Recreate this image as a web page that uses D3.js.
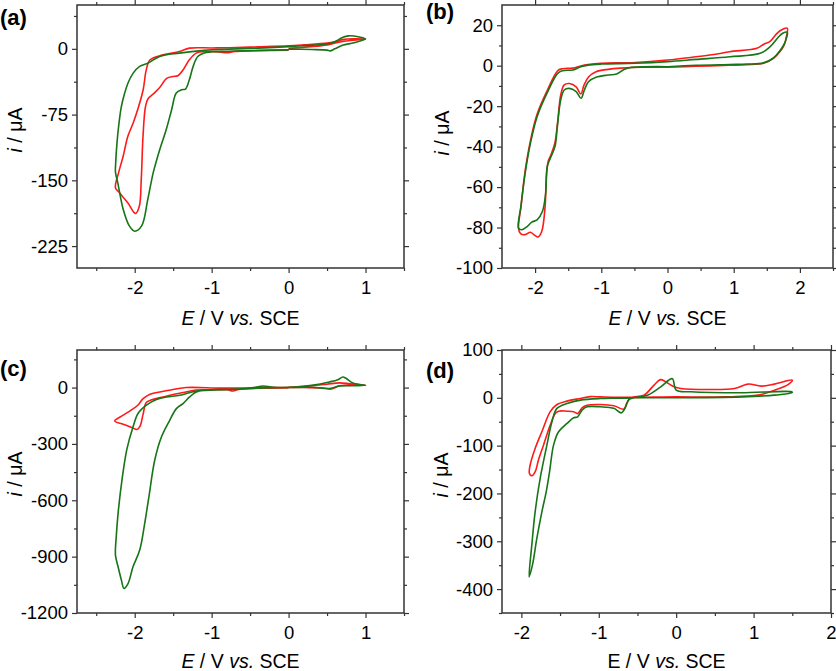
<!DOCTYPE html>
<html>
<head>
<meta charset="utf-8">
<script src="https://cdn.jsdelivr.net/npm/d3@7"></script>
<style>
  body { margin: 0; background: #fff; }
  svg { display: block; }
</style>
</head>
<body>
<svg id="chart" width="836" height="671"></svg>
<script>

// ---- data: [E (V vs SCE), i (uA)] ----

// panel (a)
var redA = [
  [0, 0.5], [0.3, 2.5], [0.5, 4.5], [0.65, 7.5], [0.8, 9.5], [1.0, 11],
  [0.85, 11.5], [0.7, 10.5], [0.6, 8], [0.5, 6.5], [0.2, 4.5], [0, 3.4], [-0.4, 2.2], [-0.77, 1.2],
  [-1.0, 1.0], [-1.29, 0.8], [-1.42, -3], [-1.63, -6.8], [-1.8, -12.5], [-1.85, -24], [-1.89, -46.7],
  [-1.96, -69], [-2.02, -84.6], [-2.09, -100], [-2.15, -122.5], [-2.21, -141.5], [-2.25, -158.6],
  [-2.2, -164], [-2.09, -175.6], [-1.99, -187.8], [-1.94, -179.5], [-1.915, -149], [-1.892, -99.8],
  [-1.86, -66], [-1.827, -57], [-1.74, -50], [-1.675, -44], [-1.58, -33.5], [-1.5, -31.5], [-1.44, -30.7],
  [-1.37, -23.9], [-1.29, -12.5], [-1.2, -4.9], [-1.07, -3], [-0.9, -3.5], [-0.8, -4.5], [-0.7, -3],
  [-0.4, -2.2], [0, -1.5]
];
var greenA = [
  [0, -0.3], [0.3, -0.8], [0.5, -1.5], [0.54, -2.3], [0.6, 0], [0.7, 4], [0.85, 7], [1.0, 11.4],
  [0.92, 13.5], [0.78, 14.8], [0.7, 13], [0.6, 8], [0.5, 5.5], [0.2, 3.5], [0, 2.5], [-0.4, 0.8],
  [-0.77, -0.3], [-1.1, -1.8], [-1.42, -4.9], [-1.675, -8.7], [-1.827, -16.3], [-1.935, -20],
  [-2.02, -27.7], [-2.087, -39], [-2.13, -50.4], [-2.173, -65.6], [-2.204, -84.6], [-2.23, -107],
  [-2.247, -130], [-2.25, -140.7],
  [-2.22, -152.9], [-2.15, -183], [-2.07, -202], [-2.0, -208], [-1.91, -202], [-1.83, -171.8],
  [-1.76, -141.5], [-1.675, -115], [-1.59, -92], [-1.52, -69.4], [-1.46, -50.4], [-1.39, -46.7],
  [-1.34, -45.9], [-1.29, -35.3], [-1.24, -20], [-1.18, -8.7], [-1.07, -4.2], [-0.77, -2.7],
  [-0.4, -1.8], [0, -1.2]
];

// panel (b)
var redB = [
  [0, -0.8], [0.43, -0.3], [0.94, 0.2], [1.2, 0.5], [1.45, 1.2], [1.6, 3.6], [1.7, 7], [1.76, 10], [1.8, 15],
  [1.81, 18.5], [1.74, 18], [1.654, 16], [1.55, 12], [1.45, 10.5], [1.35, 8.6], [0.94, 6.9], [0.7, 5.5],
  [0.43, 4.4], [0, 2.8], [-0.49, 1.6], [-1.0, 1.2], [-1.2, 0.6], [-1.3, 0], [-1.43, -1.2], [-1.59, -1.5],
  [-1.66, -2.5], [-1.82, -12.5], [-1.97, -24], [-2.07, -37], [-2.15, -52], [-2.21, -69], [-2.25, -80.5],
  [-2.22, -83], [-2.15, -83.5], [-2.07, -82.3], [-2.0, -84], [-1.955, -84.7], [-1.9, -82], [-1.85, -70],
  [-1.83, -55], [-1.8, -47], [-1.76, -44], [-1.7, -38], [-1.66, -28], [-1.61, -14], [-1.56, -9.5],
  [-1.48, -8.8], [-1.38, -10.5], [-1.31, -14], [-1.26, -9.5], [-1.19, -5.5], [-1.08, -3], [-0.9, -1.8],
  [-0.7, -1.2], [-0.4, -0.8], [0, -0.8]
];
var greenB = [
  [0, -0.5], [0.43, 0.2], [0.94, 0.6], [1.2, 0.8], [1.45, 1.4], [1.6, 3.8], [1.7, 7.5], [1.76, 10.5], [1.8, 14],
  [1.81, 16.5], [1.74, 16], [1.68, 14.3], [1.55, 9.4], [1.4, 6.1], [0.94, 4.4], [0.43, 3.1], [0, 2.0],
  [-0.49, 1.2], [-1.0, 0.8], [-1.2, 0.3], [-1.31, -0.5], [-1.43, -2.1], [-1.59, -2.5], [-1.66, -3.8],
  [-1.82, -13.6], [-1.97, -25.2], [-2.07, -38.3], [-2.15, -53.1], [-2.215, -69.6], [-2.25, -80.3],
  [-2.2, -81.1], [-2.12, -79.5], [-2.05, -77.3], [-1.97, -76.2], [-1.89, -72.1], [-1.84, -63],
  [-1.817, -49.9], [-1.77, -45.7], [-1.7, -40], [-1.664, -30.1], [-1.613, -16.9], [-1.56, -12],
  [-1.485, -11.2], [-1.38, -12.8], [-1.306, -16.1], [-1.256, -12], [-1.194, -7.9], [-1.08, -5.7],
  [-0.9, -4.6], [-0.77, -4.1], [-0.67, -2.1], [-0.57, -1.0], [0, -0.5]
];

// panel (c)
var redC = [
  [0, 2], [0.3, 10], [0.5, 18], [0.66, 25], [0.8, 20], [1.0, 13],
  [0.8, 12], [0.66, 10], [0.58, -5], [0.53, -8], [0.45, -2], [0.2, 0], [0, 0], [-0.33, 1], [-0.6, -2],
  [-0.9, -3], [-1.33, 0], [-1.55, -14], [-1.8, -36], [-1.89, -59], [-1.96, -94], [-2.06, -124],
  [-2.15, -147], [-2.26, -178],
  [-2.15, -195], [-2.04, -212], [-1.97, -223], [-1.93, -205], [-1.89, -140], [-1.85, -80], [-1.78, -65],
  [-1.65, -52], [-1.5, -37], [-1.29, -20], [-1.2, -13], [-1.0, -10], [-0.8, -12], [-0.72, -18],
  [-0.65, -10], [-0.4, -4], [0, -2]
];
var greenC = [
  [0, 0], [0.3, 2], [0.53, -5], [0.6, 2], [0.66, 8.5], [0.85, 10], [1.0, 12],
  [0.93, 16], [0.835, 24], [0.75, 48], [0.705, 56], [0.64, 42], [0.53, 30], [0.3, 12], [0.1, 3],
  [-0.2, 2], [-0.333, 8.5], [-0.45, 0], [-0.766, -10.6], [-1.2, -18], [-1.416, -41], [-1.589, -50],
  [-1.718, -64], [-1.848, -94], [-1.957, -138], [-2.022, -210], [-2.1, -325], [-2.16, -475],
  [-2.212, -652], [-2.24, -795], [-2.25, -892],
  [-2.216, -954], [-2.173, -1025], [-2.139, -1069], [-2.087, -1043], [-2.022, -954], [-1.935, -865],
  [-1.87, -723], [-1.815, -580], [-1.74, -387], [-1.653, -263], [-1.545, -174], [-1.458, -112],
  [-1.372, -85], [-1.286, -50], [-1.2, -23], [-1.07, -14], [-0.766, -10], [-0.4, -3], [0, 0]
];

// panel (d)
var redD = [
  [0, 2], [-0.3, 1.5], [-0.6, 1], [-0.98, 2], [-1.11, 2.5], [-1.24, -1.4], [-1.41, -6.9], [-1.54, -13.9],
  [-1.627, -29], [-1.735, -71], [-1.822, -106], [-1.887, -141], [-1.896, -158], [-1.865, -163],
  [-1.822, -155], [-1.779, -130], [-1.714, -99], [-1.627, -57], [-1.562, -33], [-1.519, -28], [-1.41, -28],
  [-1.325, -29], [-1.273, -33], [-1.216, -21], [-1.151, -15.4], [-0.978, -14], [-0.805, -16.7],
  [-0.675, -23.6], [-0.64, -11.7], [-0.588, 0], [-0.416, 5.6], [-0.286, 26.5], [-0.2, 38], [-0.112, 31],
  [-0.026, 23], [0.06, 19.6], [0.41, 17.5], [0.753, 19.6], [0.927, 28.7], [1.1, 24.5], [1.27, 28.7],
  [1.5, 37], [1.45, 28], [1.27, 16], [1.06, 5.6], [0.62, 2], [0, 2]
];
var greenD = [
  [0, 0], [-0.2, 0], [-0.588, 0], [-0.978, -1.4], [-1.238, -4.8], [-1.41, -11.7], [-1.54, -22],
  [-1.605, -50], [-1.67, -99], [-1.757, -168.6], [-1.822, -238.5], [-1.865, -308], [-1.9, -374.5],
  [-1.857, -350], [-1.8, -294], [-1.735, -238.5], [-1.679, -196.7], [-1.636, -154.8], [-1.584, -99],
  [-1.519, -71], [-1.41, -53.6], [-1.325, -41.8], [-1.273, -39.7], [-1.216, -25.7], [-1.151, -18.8],
  [-0.978, -18.8], [-0.805, -22], [-0.709, -31.4], [-0.653, -18.8], [-0.61, -3.3], [-0.545, 0],
  [-0.37, 5.6], [-0.2, 23], [-0.05, 40], [0, 16], [0.19, 12.6], [0.84, 10.5], [1.49, 12.6],
  [1.5, 11], [1.27, 5.6], [0.84, 2], [0, 0]
];

// ---- ticks ----
var xTicksAC = [-2, -1, 0, 1];
var xMinorAC = [-2.5, -1.5, -0.5, 0.5, 1.5];
var xTicksBD = [-2, -1, 0, 1, 2];
var xMinorB = [-2.5, -1.5, -0.5, 0.5, 1.5, 2.5];
var xMinorD = [-1.5, -0.5, 0.5, 1.5];
var yTicksA = [0, -75, -150, -225];
var yMinorA = [37.5, -37.5, -112.5, -187.5];
var yTicksB = [20, 0, -20, -40, -60, -80, -100];
var yMinorB = [30, 10, -10, -30, -50, -70, -90];
var yTicksC = [0, -300, -600, -900, -1200];
var yMinorC = [150, -150, -450, -750, -1050];
var yTicksD = [100, 0, -100, -200, -300, -400];
var yMinorD = [50, -50, -150, -250, -350, -450];

var panels = [
  { label: "(a)", red: redA, green: greenA, xDomain: [-2.75, 1.5], yDomain: [-250, 50],
    xTicks: xTicksAC, xMinor: xMinorAC, yTicks: yTicksA, yMinor: yMinorA,
    box: [77, 5, 404, 268], labelAt: [0, 25], yTitleAt: [21.5, 130], xTitleY: 325, italicE: true },
  { label: "(b)", red: redB, green: greenB, xDomain: [-2.5, 2.5], yDomain: [-100, 30],
    xTicks: xTicksBD, xMinor: xMinorB, yTicks: yTicksB, yMinor: yMinorB,
    box: [502, 5, 833, 268], labelAt: [426, 19], yTitleAt: [449, 133], xTitleY: 325, italicE: true },
  { label: "(c)", red: redC, green: greenC, xDomain: [-2.75, 1.5], yDomain: [-1200, 200],
    xTicks: xTicksAC, xMinor: xMinorAC, yTicks: yTicksC, yMinor: yMinorC,
    box: [77, 350, 404, 613], labelAt: [0, 376], yTitleAt: [21.5, 474], xTitleY: 668, italicE: true },
  { label: "(d)", red: redD, green: greenD, xDomain: [-2.25, 2.0], yDomain: [-450, 100],
    xTicks: xTicksBD, xMinor: xMinorD, yTicks: yTicksD, yMinor: yMinorD,
    box: [502, 350, 831, 613], labelAt: [426, 378], yTitleAt: [448, 475], xTitleY: 668, italicE: false }
];

var svg = d3.select("#chart");
var font = "'Liberation Sans', Arial, Helvetica, sans-serif";
var axisColor = "#333";

function drawAxis(g, axis, transform, withLabels) {
  var a = g.append("g")
    .attr("transform", transform)
    .call(axis)
    .attr("font-size", 18.5)
    .attr("font-family", font)
    .attr("color", axisColor);
  a.select(".domain").remove();
  a.selectAll("line").attr("stroke-width", 1.2);
  if (withLabels) a.selectAll("text").attr("fill", "#000");
  return a;
}

panels.forEach(function(p) {
  var x = d3.scaleLinear().domain(p.xDomain).range([p.box[0], p.box[2]]);
  var y = d3.scaleLinear().domain(p.yDomain).range([p.box[3], p.box[1]]);
  var g = svg.append("g");

  var fmt = function(d) { return String(d); };
  var none = function() { return ""; };
  var xMin = p.xMinor.filter(function(v) { return v > p.xDomain[0] && v <= p.xDomain[1]; });
  var yMin = p.yMinor.filter(function(v) { return v >= p.yDomain[0] && v < p.yDomain[1]; });

  // major + minor ticks, all outward
  drawAxis(g, d3.axisBottom(x).tickValues(p.xTicks).tickSize(5).tickPadding(8).tickFormat(fmt),
    "translate(0," + p.box[3] + ")", true);
  drawAxis(g, d3.axisBottom(x).tickValues(xMin).tickSize(3).tickFormat(none), "translate(0," + p.box[3] + ")");
  drawAxis(g, d3.axisTop(x).tickValues(p.xTicks).tickSize(5).tickFormat(none), "translate(0," + p.box[1] + ")");
  drawAxis(g, d3.axisTop(x).tickValues(xMin).tickSize(3).tickFormat(none), "translate(0," + p.box[1] + ")");

  drawAxis(g, d3.axisLeft(y).tickValues(p.yTicks).tickSize(5).tickPadding(4).tickFormat(fmt),
    "translate(" + p.box[0] + ",0)", true);
  drawAxis(g, d3.axisLeft(y).tickValues(yMin).tickSize(3).tickFormat(none), "translate(" + p.box[0] + ",0)");
  drawAxis(g, d3.axisRight(y).tickValues(p.yTicks).tickSize(5).tickFormat(none), "translate(" + p.box[2] + ",0)");
  drawAxis(g, d3.axisRight(y).tickValues(yMin).tickSize(3).tickFormat(none), "translate(" + p.box[2] + ",0)");

  // curves
  var line = d3.line()
    .x(function(d) { return x(d[0]); })
    .y(function(d) { return y(d[1]); })
    .curve(d3.curveCatmullRom.alpha(0.5));

  g.append("path").datum(p.red)
    .attr("d", line).attr("fill", "none")
    .attr("stroke", "#ff1a1a").attr("stroke-width", 1.6).attr("stroke-linejoin", "round");
  g.append("path").datum(p.green)
    .attr("d", line).attr("fill", "none")
    .attr("stroke", "#167516").attr("stroke-width", 1.6).attr("stroke-linejoin", "round");

  // frame
  g.append("rect")
    .attr("x", p.box[0]).attr("y", p.box[1])
    .attr("width", p.box[2] - p.box[0]).attr("height", p.box[3] - p.box[1])
    .attr("fill", "none").attr("stroke", axisColor).attr("stroke-width", 1.5);

  // panel letter
  g.append("text")
    .attr("x", p.labelAt[0]).attr("y", p.labelAt[1])
    .attr("font-family", font).attr("font-size", 22).attr("font-weight", "bold")
    .text(p.label);

  // y title
  var yt = g.append("text")
    .attr("transform", "translate(" + p.yTitleAt[0] + "," + p.yTitleAt[1] + ") rotate(-90)")
    .attr("text-anchor", "middle")
    .attr("font-family", font).attr("font-size", 19.5);
  yt.append("tspan").attr("font-style", "italic").text("i");
  yt.append("tspan").text(" / \u03bcA");

  // x title
  var xt = g.append("text")
    .attr("x", (p.box[0] + p.box[2]) / 2).attr("y", p.xTitleY)
    .attr("text-anchor", "middle")
    .attr("font-family", font).attr("font-size", 19.5);
  xt.append("tspan").attr("font-style", p.italicE ? "italic" : "normal").text("E");
  xt.append("tspan").text(" / V ");
  xt.append("tspan").attr("font-style", "italic").text("vs.");
  xt.append("tspan").text(" SCE");
});
</script>
</body>
</html>
